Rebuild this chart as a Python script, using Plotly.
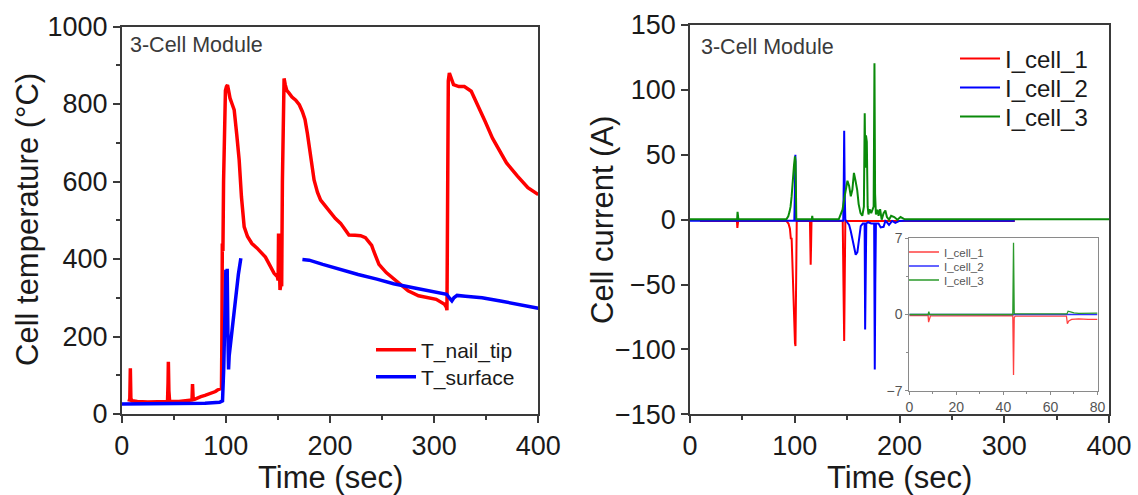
import plotly.graph_objects as go

# ---------------- Left panel: temperatures ----------------
t_nail = [7, 7.8, 8.3, 8.8, 10, 15, 25, 35, 44, 44.5, 44.8, 45.3, 46, 55, 65, 67.5, 68, 68.6, 70, 73, 76, 80,
          85.6, 90, 92, 95, 95.8, 96.2, 96.6, 97.2, 97.8, 98.6, 99.6, 100.6, 101.6, 102.6, 104, 106, 108, 110.5,
          112.8, 115, 117.6, 120.8, 125, 130, 133.6, 138, 142, 146.3, 149.5, 150.2, 150.6, 151.2, 152, 152.8,
          153.6, 154.3, 155.2, 155.9, 157, 158.5, 160.7, 163.5, 167.1, 170.5, 173.5, 176, 178.3, 181.5, 184.7,
          188, 191, 196, 200.7, 205, 210.2, 214, 218.2, 224, 229.4, 234, 237, 240, 242, 247, 254, 264, 275, 285,
          302, 310, 311.8, 312.3, 312.8, 313.6, 314.6, 316.5, 318.6, 323.7, 329, 335.6, 342, 349, 356, 363,
          369.5, 380, 390, 400]
T_nail_tip = [32, 40, 118, 40, 34, 32, 31, 31, 32, 80, 135, 60, 33, 32, 34, 36, 77, 40, 38, 42, 45, 48,
              53, 58, 62, 64, 66, 200, 440, 420, 600, 780, 835, 845, 849, 835, 815, 800, 785, 720,
              655, 560, 483, 458, 440, 428, 419, 405, 385, 363, 354, 345, 466, 350, 320, 335,
              330, 600, 820, 866, 850, 835, 828, 818, 810, 798, 780, 760, 724, 664, 604,
              572, 552, 535, 518, 505, 492, 478, 462, 461, 460, 455, 446, 435, 420, 386, 365, 343, 318, 305,
              296, 283, 275, 268, 600, 860, 880, 868, 850, 845, 845, 833, 798, 755, 712, 678,
              648, 614, 584, 566]

t_surf = [0, 20, 40, 60, 80, 94, 96.8, 98, 99.2, 100, 100.6, 101.3, 102, 102.6, 103.2, 104.8, 106.4, 108,
          109.6, 112, 114.4, None,
          173.5, 180, 193, 210, 227, 245, 261, 280, 295, 305, 312, 315, 317, 319, 322, 330, 346, 365, 380,
          390, 400]
T_surface = [26, 26, 26, 27, 28, 30, 34, 120, 300, 372, 250, 375, 200, 115, 150, 191, 216, 255,
             302, 360, 402, None,
             399, 397, 386, 372, 360, 348, 336, 326, 318, 314, 309, 298, 292, 300, 306, 304, 300, 291, 283,
             278, 273]

# ---------------- Right panel: currents ----------------
t_c1 = [9.5, 44.8, 45.2, 45.6, 46, 92, 94, 95.4, 96.3, 97, 97.8, 98.6, 99.5, 100.2, 100.7, 101.3, 101.9,
        114.5, 114.9, 115.2, 115.6, 116, 145.8, 146.5, 147.2, 147.8, 148.3, 310]
I_cell_1 = [-1, -1, -6.4, -3, -1, -1, -3, -7, -15, -14, -35, -60, -85, -95, -97.4, -60, -1,
            -1, -20, -34.7, -20, -1, -1, -50, -93.6, -40, -1, -1]

t_c2 = [0, 99.6, 100.1, 100.6, 101.1, 146.3, 146.8, 147.2, 147.7, 148.3, 150, 151.9, 153.5, 155, 156.5,
        158.2, 159.8, 161.5, 163, 165, 166.7, 167.2, 167.7, 168.3, 170, 173, 175.8, 176.4, 176.9, 177.5,
        180, 182, 184.8, 186.5, 188, 190, 193, 196, 200, 205, 310]
I_cell_2 = [-0.8, -0.8, 20, 50, -0.8, -0.8, 30, 68.5, 20, 0, -2, -4, -9, -14, -20,
            -27, -25, -15, -5, -3, -3, -84.6, -40, -3, -2, -3, -3, -115.4, -50, -3,
            -3, -6, -5.5, -1, -2, -4, -1, -2.5, -1, -0.8, -0.8]

t_c3 = [0, 45, 45.4, 45.8, 46.2, 92, 93.8, 95, 96, 97, 98, 98.6, 99.3, 100.2, 100.8, 101.5, 116.3, 116.7,
        117.1, 142, 144, 145.6, 147, 148.7, 150.3, 151.9, 153.5, 155, 156.5, 158, 159.6, 161, 162.8, 164.5,
        166, 166.8, 167.4, 168, 168.8, 169.6, 170.4, 171.5, 173, 175.3, 176.1, 176.7, 177.5, 179, 180,
        181.5, 183, 184.8, 186.5, 188, 190, 192, 195, 198, 201, 205, 400]
I_cell_3 = [0.3, 0.3, 6, 1, 0.3, 0.3, 2.6, 6, 10, 17.7, 30, 38.5, 42, 48.8, 45, 0.3, 0.3, 3,
            0.3, 0.3, 5, 7.7, 15, 23, 30, 26, 18, 23, 36, 30, 23, 12, 5, 3,
            10, 82, 40, 65, 60, 10, 4, 8, 5, 10, 120.5, 20, 4, 7.7, 3,
            8, 0, 5, 7, 2, 0, 3, 2, 0, 2, 0.3, 0.3]

# ---------------- Inset: zoom of first 80 s ----------------
t_in1 = [0, 8, 8.2, 8.5, 9, 44, 44.3, 44.6, 45, 46, 66.8, 67.2, 67.8, 69, 72, 76, 80]
I_in1 = [-0.1, -0.1, -0.7, -0.5, -0.12, -0.1, -5.56, -0.3, -0.15, -0.15, -0.15, -0.85, -0.6, -0.45, -0.4,
         -0.45, -0.45]
t_in2 = [0, 80]
I_in2 = [0.0, 0.0]
t_in3 = [0, 8, 8.3, 8.6, 44, 44.3, 44.6, 45, 67, 67.5, 68.5, 70, 72, 80]
I_in3 = [0, 0, 0.25, 0, 0, 6.6, 0.1, 0.05, 0.05, 0.3, 0.25, 0.15, 0.1, 0.12]

RED = "#ff0000"
BLUE = "#0000ff"
GREEN = "#0a8a0a"
FRAME = "#3a3a3a"
TXT = "#1a1a1a"
FONT = "Liberation Sans, Arial, sans-serif"

fig = go.Figure()

# left
fig.add_trace(go.Scatter(x=t_nail, y=T_nail_tip, mode="lines", name="T_nail_tip", showlegend=True,
                         line=dict(color=RED, width=3.5), xaxis="x", yaxis="y", legend="legend"))
fig.add_trace(go.Scatter(x=t_surf, y=T_surface, mode="lines", name="T_surface", showlegend=True,
                         line=dict(color=BLUE, width=3.5), xaxis="x", yaxis="y", legend="legend2",
                         connectgaps=False))
# right
fig.add_trace(go.Scatter(x=t_c1, y=I_cell_1, mode="lines", name="I_cell_1", showlegend=True,
                         line=dict(color=RED, width=2), xaxis="x2", yaxis="y2", legend="legend3"))
fig.add_trace(go.Scatter(x=t_c2, y=I_cell_2, mode="lines", name="I_cell_2", showlegend=True,
                         line=dict(color=BLUE, width=2), xaxis="x2", yaxis="y2", legend="legend4"))
fig.add_trace(go.Scatter(x=t_c3, y=I_cell_3, mode="lines", name="I_cell_3", showlegend=True,
                         line=dict(color=GREEN, width=2), xaxis="x2", yaxis="y2", legend="legend5"))
# inset
fig.add_trace(go.Scatter(x=t_in1, y=I_in1, mode="lines", name="I_cell_1", showlegend=True,
                         line=dict(color="#ff4040", width=1.3), xaxis="x3", yaxis="y3", legend="legend6"))
fig.add_trace(go.Scatter(x=t_in2, y=I_in2, mode="lines", name="I_cell_2", showlegend=True,
                         line=dict(color="#3030ff", width=1.3), xaxis="x3", yaxis="y3", legend="legend7"))
fig.add_trace(go.Scatter(x=t_in3, y=I_in3, mode="lines", name="I_cell_3", showlegend=True,
                         line=dict(color="#2a9a2a", width=1.3), xaxis="x3", yaxis="y3", legend="legend8"))

W, H = 1138, 495


def px(x):
    return x / W


def py(y):
    return 1 - y / H


def leg(x, y, size, color=TXT, itemwidth=40):
    return dict(x=px(x), y=py(y), xanchor="left", yanchor="middle", bgcolor="rgba(0,0,0,0)",
                font=dict(family=FONT, size=size, color=color), itemwidth=itemwidth)


def title_ann(text, x, y, angle=0):
    return dict(text=text, xref="paper", yref="paper", x=px(x), y=py(y), xanchor="center",
                yanchor="middle", showarrow=False, textangle=angle,
                font=dict(family=FONT, size=31, color=TXT))


main_axis = dict(showgrid=False, zeroline=False, showline=True, linecolor=FRAME, linewidth=1.5,
                 mirror=True, ticks="outside", tickcolor=FRAME, tickwidth=1.5, ticklen=7,
                 automargin=False,
                 tickfont=dict(family=FONT, size=27, color=TXT))

inset_axis = dict(showgrid=False, zeroline=False, showline=True, linecolor="#8a8a8a", linewidth=1,
                  mirror=True, ticks="outside", tickcolor="#8a8a8a", ticklen=3, automargin=False,
                  tickfont=dict(family=FONT, size=14, color="#555555"))

fig.update_layout(
    width=W, height=H, margin=dict(l=0, r=0, t=0, b=0, autoexpand=False),
    paper_bgcolor="white", plot_bgcolor="white", showlegend=True,
    font=dict(family=FONT, color=TXT),
    xaxis=dict(main_axis, domain=[px(121.7), px(538.3)], range=[0, 400], dtick=100,
               minor=dict(dtick=50, ticklen=4, tickcolor=FRAME, ticks="outside"), anchor="y"),
    yaxis=dict(main_axis, domain=[py(414), py(26.5)], range=[0, 1000], dtick=200,
               minor=dict(dtick=100, ticklen=4, tickcolor=FRAME, ticks="outside"), anchor="x"),
    xaxis2=dict(main_axis, domain=[px(690), px(1109)], range=[0, 400], dtick=100,
                minor=dict(dtick=50, ticklen=4, tickcolor=FRAME, ticks="outside"), anchor="y2"),
    yaxis2=dict(main_axis, domain=[py(414.3), py(25)], range=[-150, 150], dtick=50, anchor="x2"),
    xaxis3=dict(inset_axis, range=[0, 80], dtick=20,
                minor=dict(dtick=10, ticklen=2, tickcolor="#8a8a8a", ticks="outside"),
                domain=[px(909.3), px(1097.5)], anchor="y3"),
    yaxis3=dict(inset_axis, range=[-7, 7], tickvals=[-7, 0, 7],
                minor=dict(dtick=3.5, ticklen=2, tickcolor="#8a8a8a", ticks="outside"),
                domain=[py(390.7), py(238.3)], anchor="x3"),
    legend=leg(371, 350, 21),
    legend2=leg(371, 377, 21),
    legend3=leg(955, 59, 24),
    legend4=leg(955, 88, 24),
    legend5=leg(955, 117, 24),
    legend6=leg(904, 252, 11.5, "#555555", 30),
    legend7=leg(904, 266, 11.5, "#555555", 30),
    legend8=leg(904, 280, 11.5, "#555555", 30),
    annotations=[
        dict(text="3-Cell Module", xref="paper", yref="paper", x=px(128), y=py(45), xanchor="left",
             yanchor="middle", showarrow=False, font=dict(family=FONT, size=21.5, color="#3a3a3a")),
        dict(text="3-Cell Module", xref="paper", yref="paper", x=px(699), y=py(47), xanchor="left",
             yanchor="middle", showarrow=False, font=dict(family=FONT, size=21.5, color="#3a3a3a")),
        title_ann("Time (sec)", 330, 477),
        title_ann("Time (sec)", 899.5, 477),
        title_ann("Cell temperature (°C)", 27, 220, -90),
        title_ann("Cell current (A)", 602, 220, -90),
    ],
)

fig.write_html("out.html", post_script="document.body.style.margin='0px';",
               config={"displayModeBar": False})
